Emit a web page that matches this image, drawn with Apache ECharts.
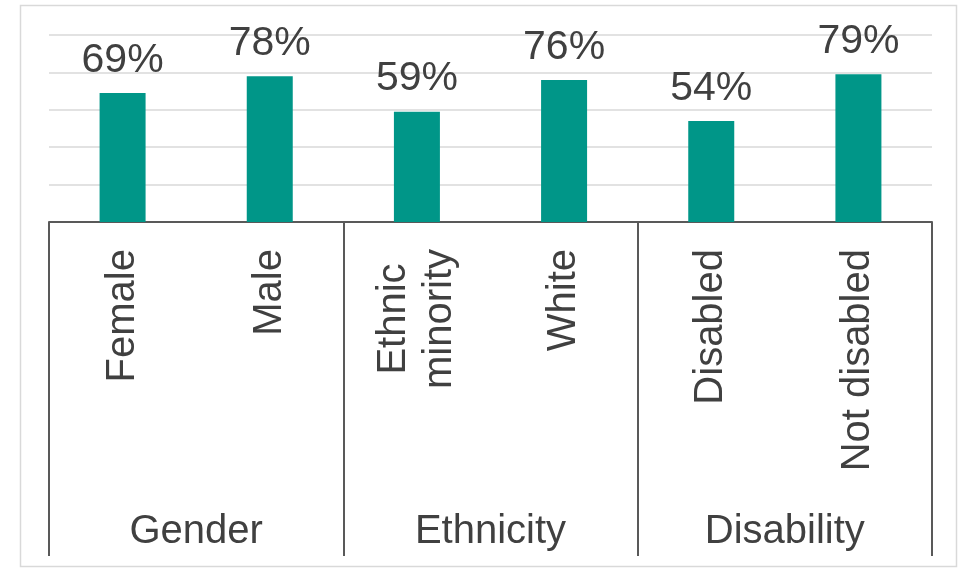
<!DOCTYPE html>
<html>
<head>
<meta charset="utf-8">
<script src="https://cdn.jsdelivr.net/npm/echarts@6/dist/echarts.min.js"></script>
<style>
html,body{margin:0;padding:0;background:#fff;}
#chart{width:961px;height:568px;}
</style>
</head>
<body>
<div id="chart"></div>
<script>
var categories = ['Female', 'Male', 'Ethnic\nminority', 'White', 'Disabled', 'Not disabled'];
var groups = ['Gender', 'Ethnicity', 'Disability'];
var values = [69, 78, 59, 76, 54, 79];

var FONT = '"Liberation Sans", Arial, sans-serif';
var TEXT = '#404040';
var LINE = '#595959';

var chart = echarts.init(document.getElementById('chart'));
chart.setOption({
  animation: false,
  backgroundColor: '#ffffff',
  graphic: [{
    type: 'rect',
    shape: { x: 20.5, y: 5.5, width: 936, height: 561 },
    style: { fill: 'none', stroke: '#d9d9d9', lineWidth: 1.5 },
    silent: true
  }],
  grid: { left: 49, right: 29, top: 35, bottom: 346, containLabel: false },
  xAxis: [{
    type: 'category',
    data: categories,
    position: 'bottom',
    axisLine: { show: true, lineStyle: { color: LINE, width: 2 } },
    axisTick: { show: false },
    axisLabel: {
      interval: 0,
      rotate: 90,
      margin: 27,
      fontSize: 40,
      fontFamily: FONT,
      color: TEXT,
      formatter: function (v) {
        return v.split('\n').map(function (s) { return '{c|' + s + '}'; }).join('\n');
      },
      rich: { c: { align: 'center', fontSize: 40, fontFamily: FONT, color: TEXT, lineHeight: 46 } }
    }
  }, {
    type: 'category',
    data: groups,
    position: 'bottom',
    axisLine: { show: false },
    axisTick: { show: true, length: 334, lineStyle: { color: LINE, width: 2 } },
    axisLabel: {
      interval: 0,
      margin: 290,
      fontSize: 40,
      fontFamily: FONT,
      color: TEXT
    }
  }],
  yAxis: {
    type: 'value',
    min: 0,
    max: 100,
    interval: 20,
    axisLine: { show: false },
    axisTick: { show: false },
    axisLabel: { show: false },
    splitLine: { show: true, lineStyle: { color: '#d9d9d9', width: 1.5 } }
  },
  series: [{
    type: 'bar',
    xAxisIndex: 0,
    data: values,
    barWidth: 46,
    itemStyle: { color: '#009688' },
    label: {
      show: true,
      position: 'top',
      distance: 12,
      formatter: '{c}%',
      fontSize: 41,
      fontFamily: FONT,
      color: TEXT
    }
  }]
});
</script>
</body>
</html>
